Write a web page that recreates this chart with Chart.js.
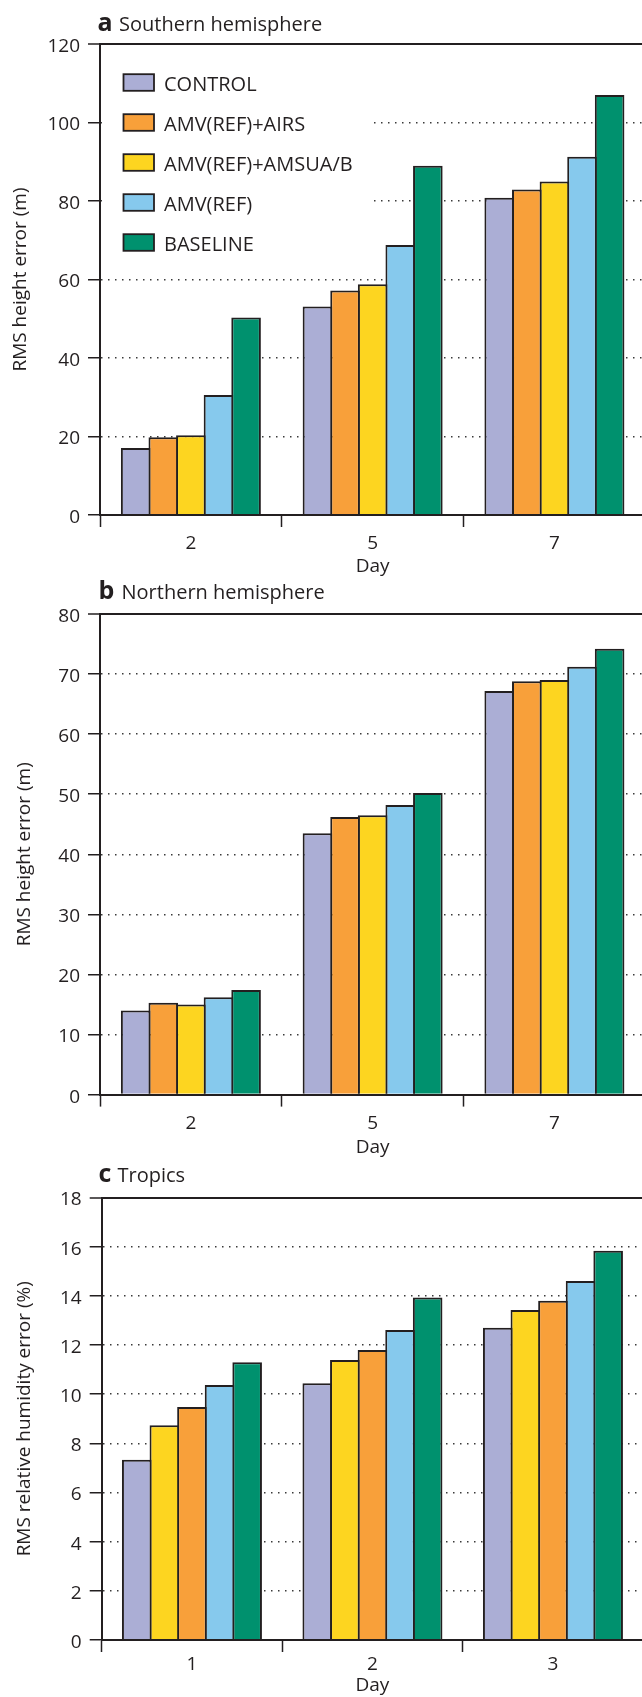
<!DOCTYPE html>
<html>
<head>
<meta charset="utf-8">
<title>RMS forecast errors by experiment</title>
<script src="https://cdn.jsdelivr.net/npm/chart.js@4.4.0/dist/chart.umd.min.js"></script>
<style>
  html, body { margin: 0; padding: 0; background: #fff; overflow: hidden; width: 642px; height: 1697px; }
  .panel { position: absolute; left: 0; }
  canvas { display: block; }
</style>
</head>
<body>
<div class="panel" style="top:0px"><canvas id="southern" width="660" height="578"></canvas></div>
<div class="panel" style="top:578px"><canvas id="northern" width="660" height="582"></canvas></div>
<div class="panel" style="top:1160px"><canvas id="tropics" width="660" height="537"></canvas></div>
<script>
// ---- categories ----
const hemisphereDays = ['2', '5', '7'];
const tropicsDays = ['1', '2', '3'];

// ---- series names ----
const CONTROL = 'CONTROL';
const AIRS = 'AMV(REF)+AIRS';
const AMSU = 'AMV(REF)+AMSUA/B';
const AMV = 'AMV(REF)';
const BASELINE = 'BASELINE';

// ---- (a) Southern hemisphere, RMS height error (m) ----
const shControl  = [17.1, 53.1, 80.8];
const shAirs     = [19.8, 57.2, 82.9];
const shAmsu     = [20.3, 58.8, 85.0];
const shAmv      = [30.6, 68.8, 91.3];
const shBaseline = [50.3, 89.0, 107.0];

// ---- (b) Northern hemisphere, RMS height error (m) ----
const nhControl  = [14.0, 43.5, 67.2];
const nhAirs     = [15.3, 46.2, 68.8];
const nhAmsu     = [15.0, 46.5, 69.0];
const nhAmv      = [16.2, 48.2, 71.2];
const nhBaseline = [17.4, 50.2, 74.2];

// ---- (c) Tropics, RMS relative humidity error (%) ----
const trControl  = [7.33, 10.44, 12.70];
const trAmsu     = [8.74, 11.39, 13.42];
const trAirs     = [9.48, 11.80, 13.80];
const trAmv      = [10.37, 12.61, 14.60];
const trBaseline = [11.30, 13.93, 15.83];

// ---- y-axis ranges ----
const shTicks = { max: 120, step: 20 };
const nhTicks = { max: 80, step: 10 };
const trTicks = { max: 18, step: 2 };

// ---- styling ----
const ink = '#231f20';
const seriesColor = {
  [CONTROL]: '#abaed5',
  [AIRS]: '#f8a03a',
  [AMSU]: '#fdd520',
  [AMV]: '#86c9ed',
  [BASELINE]: '#00916e'
};
const FONT = '"Open Sans", "Noto Sans", sans-serif';

Chart.defaults.font.family = FONT;
Chart.defaults.color = ink;

// Panel heading: bold panel letter followed by a plain-weight caption.
const headingPlugin = {
  id: 'panelHeading',
  afterDraw(chart, args, o) {
    const ctx = chart.ctx;
    ctx.save();
    ctx.fillStyle = ink;
    ctx.textBaseline = 'alphabetic';
    ctx.textAlign = 'left';
    ctx.font = 'bold 25px ' + FONT;
    ctx.fillText(o.letter, o.x, o.y);
    ctx.font = '20px ' + FONT;
    ctx.fillText(o.text, o.textX, o.y);
    ctx.restore();
  }
};

// Inset key in the upper-left corner of the plot, on a white ground.
const insetLegendPlugin = {
  id: 'insetLegend',
  beforeDatasetsDraw(chart, args, o) {
    if (!o.show) return;
    const { ctx, chartArea } = chart;
    ctx.save();
    ctx.fillStyle = '#fff';
    ctx.fillRect(chartArea.left + 2, chartArea.top + 2, o.width, o.height);
    ctx.font = '20px ' + FONT;
    ctx.textBaseline = 'middle';
    ctx.textAlign = 'left';
    chart.data.datasets.forEach((ds, i) => {
      const x = chartArea.left + o.boxLeft;
      const y = chartArea.top + o.boxTop + i * o.step;
      ctx.fillStyle = ds.backgroundColor;
      ctx.fillRect(x, y, o.boxW, o.boxH);
      ctx.lineWidth = 1.8;
      ctx.strokeStyle = ink;
      ctx.strokeRect(x, y, o.boxW, o.boxH);
      ctx.fillStyle = ink;
      ctx.fillText(ds.label, chartArea.left + o.textLeft, y + o.boxH / 2 + o.textDy);
    });
    ctx.restore();
  }
};

function makeDatasets(list) {
  return list.map(([label, data]) => ({
    label,
    data,
    backgroundColor: seriesColor[label],
    borderColor: ink,
    borderWidth: 2,
    borderSkipped: 'start'
  }));
}

function makePanel(id, p) {
  const canvas = document.getElementById(id);
  const width = canvas.width, height = canvas.height;
  const catWidth = (p.right - p.left) / p.labels.length;
  const slot = 27.6;
  const yMax = p.ticks.max;
  return new Chart(canvas, {
    type: 'bar',
    data: { labels: p.labels, datasets: makeDatasets(p.series) },
    plugins: [headingPlugin, insetLegendPlugin],
    options: {
      responsive: false,
      animation: false,
      devicePixelRatio: 1,
      layout: { padding: { left: 0, right: width - p.right, top: p.top, bottom: 0 } },
      datasets: {
        bar: {
          categoryPercentage: (slot * 5) / catWidth,
          barPercentage: (slot + 2) / slot
        }
      },
      plugins: {
        legend: { display: false },
        tooltip: { enabled: false },
        panelHeading: p.heading,
        insetLegend: p.legend || { show: false }
      },
      scales: {
        x: {
          offset: true,
          grid: {
            display: true, drawOnChartArea: false, drawTicks: true, offset: true,
            tickLength: 12, tickWidth: 1.5, tickColor: ink, tickBorderDash: []
          },
          border: { display: true, color: ink, width: 2, z: 1 },
          ticks: { padding: p.xTickPad, font: { size: 19 }, color: ink, maxRotation: 0 },
          title: { display: true, text: 'Day', font: { size: 19 }, color: ink, padding: { top: 0, bottom: p.dayPad } },
          afterFit: (s) => { s.height = height - p.bottom; }
        },
        y: {
          min: 0,
          max: yMax,
          grid: {
            color: (c) => (c.tick && c.tick.value === yMax ? ink : '#3a3a3a'),
            lineWidth: (c) => (c.tick && c.tick.value === yMax ? 2 : 1.5),
            tickLength: 12, tickWidth: 1.5, tickColor: ink, tickBorderDash: []
          },
          border: {
            display: true, color: ink, width: 2, z: 1,
            dash: (c) => (c.tick && c.tick.value === yMax ? [] : [1.5, 5.5])
          },
          ticks: { stepSize: p.ticks.step, padding: 8, labelOffset: 2.5, font: { size: 19 }, color: ink },
          title: { display: true, text: p.yTitle, font: { size: 19 }, color: ink, padding: { top: p.yTitlePad, bottom: 0 } },
          afterFit: (s) => { s.width = p.left; }
        }
      }
    }
  });
}

makePanel('southern', {
  labels: hemisphereDays,
  series: [[CONTROL, shControl], [AIRS, shAirs], [AMSU, shAmsu], [AMV, shAmv], [BASELINE, shBaseline]],
  ticks: shTicks,
  yTitle: 'RMS height error (m)',
  left: 100, right: 645.3, top: 44, bottom: 515,
  xTickPad: 4.7, dayPad: 0, yTitlePad: 9,
  heading: { letter: 'a', text: 'Southern hemisphere', x: 97.5, textX: 119, y: 30.7 },
  legend: { show: true, width: 268, height: 219, boxLeft: 23.5, boxTop: 30.2, step: 40,
            boxW: 30.5, boxH: 16.6, textLeft: 64, textDy: 3 }
});

makePanel('northern', {
  labels: hemisphereDays,
  series: [[CONTROL, nhControl], [AIRS, nhAirs], [AMSU, nhAmsu], [AMV, nhAmv], [BASELINE, nhBaseline]],
  ticks: nhTicks,
  yTitle: 'RMS height error (m)',
  left: 100, right: 645.3, top: 36, bottom: 516.6,
  xTickPad: 6, dayPad: 1.2, yTitlePad: 13,
  heading: { letter: 'b', text: 'Northern hemisphere', x: 98.5, textX: 121.5, y: 21.3 }
});

makePanel('tropics', {
  labels: tropicsDays,
  series: [[CONTROL, trControl], [AMSU, trAmsu], [AIRS, trAirs], [AMV, trAmv], [BASELINE, trBaseline]],
  ticks: trTicks,
  yTitle: 'RMS relative humidity error (%)',
  left: 101.7, right: 643.2, top: 37.5, bottom: 480,
  xTickPad: 1.3, dayPad: 0, yTitlePad: 13,
  heading: { letter: 'c', text: 'Tropics', x: 98.5, textX: 117.5, y: 21.7 }
});
</script>
</body>
</html>
